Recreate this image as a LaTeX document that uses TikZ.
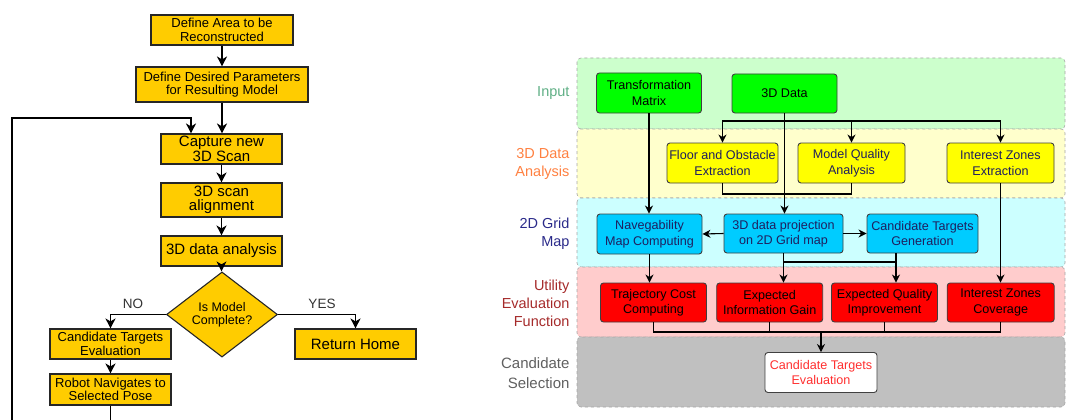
\documentclass[tikz,border=0pt]{standalone}
\usepackage{fontspec}
\setmainfont{Liberation Sans}
\usetikzlibrary{arrows.meta,shapes.geometric}

\definecolor{flowgold}{HTML}{FFCC00}
\definecolor{bandgreen}{HTML}{CCFFCC}
\definecolor{bandyellow}{HTML}{FFFFCC}
\definecolor{bandcyan}{HTML}{CCFFFF}
\definecolor{bandpink}{HTML}{FFCCCC}
\definecolor{bandgray}{HTML}{C0C0C0}
\definecolor{boxgreen}{HTML}{00FF00}
\definecolor{boxyellow}{HTML}{FFFF00}
\definecolor{boxcyan}{HTML}{00CCFF}
\definecolor{boxred}{HTML}{FF0000}
\definecolor{txtgreen}{HTML}{5FAF85}
\definecolor{txtorange}{HTML}{FF8040}
\definecolor{txtnavy}{HTML}{2A2A8A}
\definecolor{txtbrown}{HTML}{A52A2A}
\definecolor{txtgray}{HTML}{606060}
\definecolor{txtdark}{HTML}{1F1F5F}
\definecolor{txtred}{HTML}{FF3030}

\begin{document}
\begin{tikzpicture}[x=1pt, y=-1pt, line join=miter,
    font=\fontsize{13}{13.5}\selectfont,
    >={Stealth[length=10pt,width=10pt,inset=3pt]},
    small/.style={font=\fontsize{13}{13.5}\selectfont},
    big/.style={font=\fontsize{15}{14.5}\selectfont},
    flowbox/.style={draw=black!85, line width=1.1pt, fill=flowgold, align=center,
        inner sep=0pt, minimum width=121pt, minimum height=30pt},
    decision/.style={diamond, draw=black!85, line width=1.1pt, fill=flowgold, align=center,
        inner sep=0pt, minimum width=111pt, minimum height=59pt, font=\fontsize{12.5}{13}\selectfont},
    flowline/.style={line width=1.4pt},
    band/.style={draw=black!35, dashed, line width=0.6pt, rounded corners=4pt},
    bandlabel/.style={anchor=east, align=right, font=\fontsize{14.5}{18}\selectfont},
    blockbox/.style={draw=black!75, line width=0.9pt, rounded corners=3pt, align=center,
        inner sep=0pt, minimum width=106pt, minimum height=40pt,
        font=\fontsize{12.6}{15.5}\selectfont},
    blockline/.style={line width=1.1pt, >={Stealth[length=8pt,width=8pt,inset=2.5pt]}}]

    \useasboundingbox (0,0) rectangle (1066,420);

    % left: reconstruction loop
    \node[flowbox, small, minimum width=142pt] (area) at (222,30) {Define Area to be\\Reconstructed};
    \node[flowbox, small, minimum width=172pt, minimum height=35pt] (params) at (222,84.5) {Define Desired Parameters\\for Resulting Model};
    \node[flowbox, big] (capture) at (221.5,149) {Capture new\\3D Scan};
    \node[flowbox, big, minimum height=34pt] (alignscan) at (221.5,200) {3D scan\\alignment};
    \node[flowbox, big] (analysis) at (221.5,251) {3D data analysis};
    \node[decision] (complete) at (222,314.5) {Is Model\\Complete?};
    \node[flowbox, small] (evaluate) at (110.5,344) {Candidate Targets\\Evaluation};
    \node[flowbox, big] (home) at (355.5,344) {Return Home};
    \node[flowbox, small, minimum height=31pt] (navigate) at (110.5,389.5) {Robot Navigates to\\Selected Pose};

    \node[font=\fontsize{13.5}{13.5}\selectfont, text=black!80] (no) at (133,304) {NO};
    \node[font=\fontsize{13.5}{13.5}\selectfont, text=black!80] (yes) at (322,304) {YES};

    \coordinate (loopout) at (110.5,420);
    \coordinate (loopin) at (12,420);
    \coordinate (looptop) at (191,118);

    \draw[flowline,->] (area) -- (params);
    \draw[flowline,->] (params) -- (params.south |- capture.north);
    \draw[flowline,->] (capture) -- (alignscan);
    \draw[flowline,->] (alignscan) -- (analysis);
    \draw[flowline,->] (analysis.south) -- (analysis.south |- complete.north);
    \draw[flowline,->] (complete.west) -| (evaluate.north);
    \draw[flowline,->] (complete.east) -| (home.north);
    \draw[flowline,->] (evaluate) -- (navigate);
    \draw[flowline] (navigate.south) -- (loopout);
    \draw[flowline,->] (loopin) |- (looptop) -- (looptop |- capture.north);

    % right: processing layers
    \filldraw[band, fill=bandgreen]  (577,58)  rectangle (1065,129);
    \filldraw[band, fill=bandyellow] (577,129) rectangle (1065,198);
    \filldraw[band, fill=bandcyan]   (577,198) rectangle (1065,267);
    \filldraw[band, fill=bandpink]   (577,267) rectangle (1065,337);
    \filldraw[band, fill=bandgray]   (577,337) rectangle (1065,407);

    \node[bandlabel, text=txtgreen]  (lblinput)    at (573,93)  {Input};
    \node[bandlabel, text=txtorange] (lblanalysis) at (573,164) {3D Data\\Analysis};
    \node[bandlabel, text=txtnavy]   (lblgrid)     at (573,234) {2D Grid\\Map};
    \node[bandlabel, text=txtbrown]  (lblutility)  at (573,303) {Utility\\Evaluation\\Function};
    \node[bandlabel, text=txtgray, font=\fontsize{15}{20}\selectfont] (lblselect) at (573,373) {Candidate\\Selection};

    \node[blockbox, fill=boxgreen, minimum width=105pt] (transform) at (649,93) {Transformation\\Matrix};
    \node[blockbox, fill=boxgreen, minimum width=105pt, minimum height=39pt] (scandata) at (784.5,93.5) {3D Data};

    \node[blockbox, fill=boxyellow, text=txtdark, minimum width=111pt] (floor) at (722.5,163) {Floor and Obstacle\\Extraction};
    \node[blockbox, fill=boxyellow, text=txtdark, minimum width=107pt] (quality) at (851.5,163) {Model Quality\\Analysis};
    \node[blockbox, fill=boxyellow, text=txtdark, minimum width=107pt] (zones) at (1000.5,163) {Interest Zones\\Extraction};

    \node[blockbox, fill=boxcyan, text=txtdark, minimum width=105pt] (navmap) at (649.5,234) {Navegability\\Map Computing};
    \node[blockbox, fill=boxcyan, text=txtdark, minimum width=119pt, minimum height=39pt] (project) at (783.5,233.5) {3D data projection\\on 2D Grid map};
    \node[blockbox, fill=boxcyan, text=txtdark, minimum width=111pt, minimum height=39pt] (generate) at (922.5,233.5) {Candidate Targets\\Generation};

    \node[blockbox, fill=boxred, minimum height=39pt] (trajectory) at (653.5,302.5) {Trajectory Cost\\Computing};
    \node[blockbox, fill=boxred, minimum height=39pt] (gain) at (769.7,302.5) {Expected\\Information Gain};
    \node[blockbox, fill=boxred, minimum height=39pt] (improve) at (884.5,302.5) {Expected Quality\\Improvement};
    \node[blockbox, fill=boxred, minimum width=107pt, minimum height=39pt] (coverage) at (1000.7,302.5) {Interest Zones\\Coverage};

    \node[blockbox, fill=white, text=txtred, minimum width=112pt] (select) at (821,372.5) {Candidate Targets\\Evaluation};

    \coordinate (split) at (784,121);
    \coordinate (merge) at (784,194);
    \coordinate (gridjoin) at (896,262);
    \coordinate (utiljoin) at (821,332);

    \draw[blockline,->] (transform.south) -- (transform.south |- navmap.north);
    \draw[blockline,->] (scandata.south) -- (scandata.south |- project.north);
    \draw[blockline,->] (split) -| (floor.north);
    \draw[blockline,->] (split) -| (quality.north);
    \draw[blockline,->] (split) -| (zones.north);
    \draw[blockline] (floor.south) |- (merge);
    \draw[blockline] (quality.south) |- (merge);
    \draw[blockline,->] (project.west) -- (navmap.east);
    \draw[blockline,->] (project.east) -- (generate.west);
    \draw[blockline,->] (zones.south) -- (zones.south |- coverage.north);
    \draw[blockline,->] (navmap.south) -- (navmap.south |- trajectory.north);
    \draw[blockline,->] (project.south) -- (project.south |- gain.north);
    \draw[blockline] (project.south |- gridjoin) -- (gridjoin);
    \draw[blockline,->] (gridjoin |- generate.south) -- (gridjoin |- improve.north);
    \draw[blockline] (trajectory.south) |- (utiljoin);
    \draw[blockline] (gain.south) |- (utiljoin);
    \draw[blockline] (improve.south) |- (utiljoin);
    \draw[blockline] (coverage.south) |- (utiljoin);
    \draw[blockline,->] (utiljoin) -- (select.north);

\end{tikzpicture}
\end{document}
